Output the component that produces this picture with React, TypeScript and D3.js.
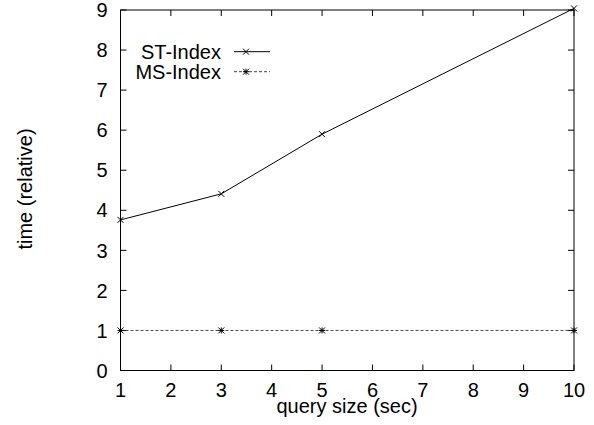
import React from "react";
import * as d3 from "d3";

const querySizes = [1, 3, 5, 10];
const stIndex = [3.76, 4.41, 5.9, 9.04];
const msIndex = [1, 1, 1, 1];
const xTicks = [1, 2, 3, 4, 5, 6, 7, 8, 9, 10];
const yTicks = [0, 1, 2, 3, 4, 5, 6, 7, 8, 9];
const seriesNames = ["ST-Index", "MS-Index"];

const W = 594;
const H = 425;
const FS = 20;
const FONT = "'Liberation Sans', Arial, sans-serif";

function T({ x, y, anchor, children, rotate }: any) {
  const tr = rotate ? `translate(${x},${y}) rotate(${rotate})` : `translate(${x},${y})`;
  return (
    <text transform={tr} textAnchor={anchor || "start"} fontFamily={FONT} fontSize={FS} fill="#000">
      {children}
    </text>
  );
}

function Cross({ x, y, s = 3 }: any) {
  return (
    <path d={`M${x - s},${y - s}L${x + s},${y + s}M${x - s},${y + s}L${x + s},${y - s}`} stroke="#000" strokeWidth={1} />
  );
}
function Star({ x, y, s = 3 }: any) {
  return (
    <path
      d={`M${x - s},${y - s}L${x + s},${y + s}M${x - s},${y + s}L${x + s},${y - s}M${x - s},${y}L${x + s},${y}M${x},${y - s}L${x},${y + s}`}
      stroke="#000"
      strokeWidth={1}
    />
  );
}

export default function App() {
  const left = 120.5, right = 574, top = 10, bottom = 370.5;
  const x = d3.scaleLinear().domain([1, 10]).range([left, right]);
  const y = d3.scaleLinear().domain([0, 9]).range([bottom, top]);
  const line = d3.line<number>().x((_, i) => x(querySizes[i])).y((d) => y(d));
  const tl = 6;

  return (
    <svg width={W} height={H} style={{ position: "absolute", left: 0, top: 0 }}>
      <rect width={W} height={H} fill="#fff" />
      {xTicks.map((t) => (
        <g key={"x" + t}>
          <line x1={x(t)} x2={x(t)} y1={bottom} y2={bottom - tl} stroke="#000" />
          <line x1={x(t)} x2={x(t)} y1={top} y2={top + tl} stroke="#000" />
          <T x={x(t)} y={397} anchor="middle">{t}</T>
        </g>
      ))}
      {yTicks.map((t) => (
        <g key={"y" + t}>
          <line x1={left} x2={left + tl} y1={y(t)} y2={y(t)} stroke="#000" />
          <line x1={right} x2={right - tl} y1={y(t)} y2={y(t)} stroke="#000" />
          <T x={107.5} y={y(t) + 7.2} anchor="end">{t}</T>
        </g>
      ))}
      <rect x={left} y={top} width={right - left} height={bottom - top} fill="none" stroke="#000" strokeWidth={1} />

      <path d={line(msIndex) || ""} fill="none" stroke="#444" strokeWidth={1} strokeDasharray="3,2" />
      {msIndex.map((v, i) => <Star key={"m" + i} x={x(querySizes[i])} y={y(v)} />)}
      <path d={line(stIndex) || ""} fill="none" stroke="#000" strokeWidth={1} />
      {stIndex.map((v, i) => <Cross key={"s" + i} x={x(querySizes[i])} y={y(v)} />)}

      <T x={221} y={58.5} anchor="end">{seriesNames[0]}</T>
      <line x1={234} x2={270} y1={51.7} y2={51.7} stroke="#000" />
      <Cross x={246} y={51.7} />
      <T x={221} y={78.5} anchor="end">{seriesNames[1]}</T>
      <line x1={234} x2={270} y1={71.7} y2={71.7} stroke="#444" strokeDasharray="3,2" />
      <Star x={246} y={71.7} />

      <T x={347} y={413} anchor="middle">query size (sec)</T>
      <T x={32} y={189} anchor="middle" rotate={-90}>time (relative)</T>
    </svg>
  );
}
